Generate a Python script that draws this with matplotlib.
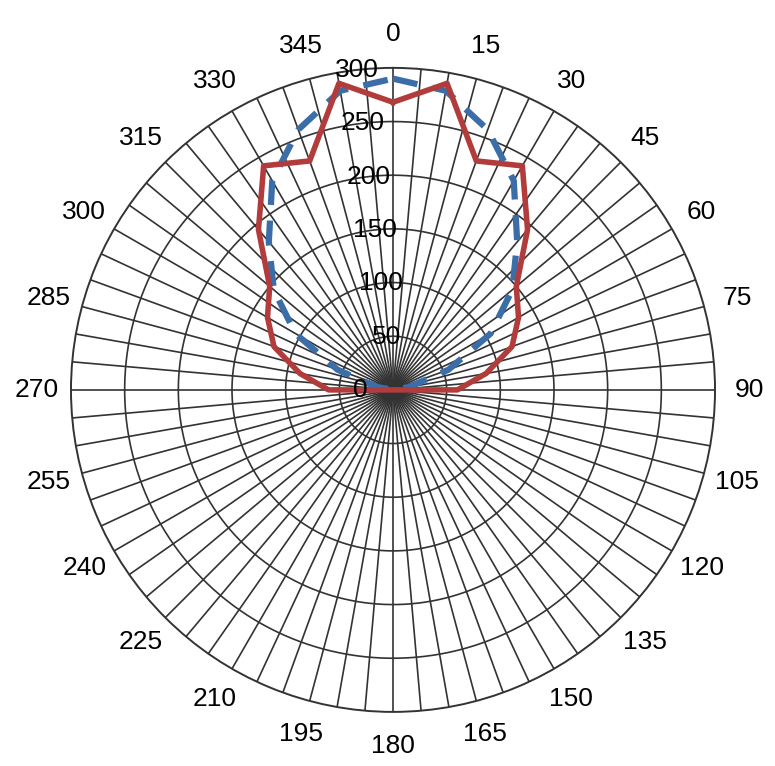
import numpy as np
import matplotlib.pyplot as plt

plt.rcParams['font.family'] = ['Liberation Sans', 'DejaVu Sans']

# angles in degrees (clockwise from top), every 10
angles = np.arange(0, 370, 10)
red_half = [268, 290, 227, 241, 195, 150, 135, 118, 88, 60]
blue_half = [290, 283, 258, 225, 180, 145, 105, 55, 15, 0]


def full(half):
    vals = list(half) + [0] * 8  # 100..170
    vals += [0]  # 180
    vals += [0] * 8  # 190..260
    vals += list(half[:0:-1])  # 270..350
    vals += [half[0]]
    return np.array(vals, dtype=float)


red = full(red_half)
blue = full(blue_half)

fig = plt.figure(figsize=(7.75, 7.66), dpi=100)
ax = fig.add_axes([0.0916, 0.0705, 0.831, 0.841], projection='polar')
ax.set_theta_zero_location('N')
ax.set_theta_direction(-1)
ax.set_ylim(0, 300)
ax.grid(False)
ax.spines['polar'].set_color('#333333')
ax.spines['polar'].set_linewidth(1.4)

th = np.deg2rad(angles)
for a in range(0, 360, 5):
    ax.plot([np.deg2rad(a)] * 2, [0, 300], color='#333333', lw=1.2, zorder=1)
circ = np.linspace(0, 2 * np.pi, 400)
for r in range(50, 300, 50):
    ax.plot(circ, [r] * len(circ), color='#333333', lw=1.2, zorder=1)

ax.plot(th, blue, color='#3b6ea8', lw=4.5, ls=(0, (4, 2.5)), zorder=3)
ax.plot(th, red, color='#b23b3b', lw=4, zorder=4)

ax.set_xticks([])
ax.set_yticks([])
for a in range(0, 360, 15):
    ax.text(np.deg2rad(a), 332, str(a), ha='center', va='center', fontsize=19)
for r in range(0, 301, 50):
    ax.text(np.deg2rad(-6.5 if r else -90), r if r else 30, str(r), ha='center',
            va='center', fontsize=19, zorder=5)

fig.savefig('out.png', dpi=100)
